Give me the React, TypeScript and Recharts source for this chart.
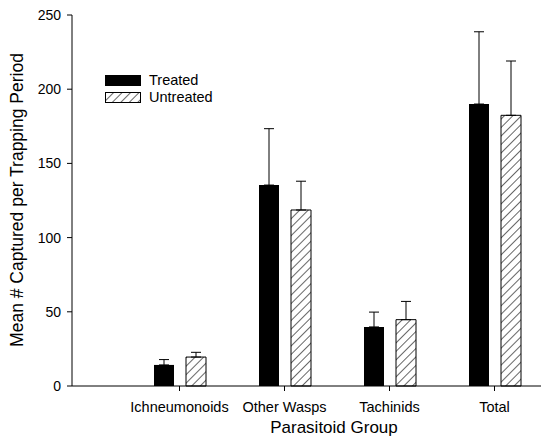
import { BarChart, Bar, XAxis, YAxis, ErrorBar, Legend } from "recharts";

const groups = ["Ichneumonoids", "Other Wasps", "Tachinids", "Total"];
const treated = [14.2, 135.4, 39.8, 190];
const treatedErr = [3.6, 38, 10, 48.7];
const untreated = [19.5, 118.6, 44.7, 182.4];
const untreatedErr = [3.2, 19.4, 12.3, 36.6];
const yTicks = [0, 50, 100, 150, 200, 250];

const data = groups.map((g, i) => ({
  group: g,
  treated: treated[i],
  treatedErr: [0, treatedErr[i]],
  untreated: untreated[i],
  untreatedErr: [0, untreatedErr[i]],
}));

const font = "'Liberation Sans', Arial, sans-serif";

function HatchDef({ id }: { id: string }) {
  return (
    <pattern id={id} patternUnits="userSpaceOnUse" width={6} height={6} patternTransform="rotate(45)">
      <rect width={6} height={6} fill="#fff" />
      <line x1={0} y1={0} x2={0} y2={6} stroke="#000" strokeWidth={1.2} />
    </pattern>
  );
}

const renderLegend = () => (
  <div style={{ fontFamily: font, fontSize: 14.5, color: "#000", lineHeight: "17px" }}>
    <div style={{ display: "flex", alignItems: "center" }}>
      <svg width={37} height={11}>
        <rect x={0.5} y={0.5} width={35} height={10} fill="#000" stroke="#000" />
      </svg>
      <span style={{ marginLeft: 7 }}>Treated</span>
    </div>
    <div style={{ display: "flex", alignItems: "center" }}>
      <svg width={37} height={11}>
        <defs>
          <HatchDef id="hatchLegend" />
        </defs>
        <rect x={0.5} y={0.5} width={35} height={10} fill="url(#hatchLegend)" stroke="#000" />
      </svg>
      <span style={{ marginLeft: 7 }}>Untreated</span>
    </div>
  </div>
);

export default function App() {
  return (
    <div style={{ position: "absolute", left: 0, top: 0, width: 541, height: 441, overflow: "hidden", background: "#fff" }}>
      <BarChart
        width={547}
        height={441}
        data={data}
        margin={{ top: 15, right: 0, bottom: 0, left: 0 }}
        barSize={20}
        barGap={12}
      >
        <defs>
          <HatchDef id="hatch" />
        </defs>
        <XAxis
          dataKey="group"
          height={55}
          padding={{ left: 55, right: 0 }}
          axisLine={{ stroke: "#000" }}
          tickLine={{ stroke: "#000" }}
          tickSize={5}
          tickMargin={11}
          tick={{ fill: "#000", fontSize: 14.5, fontFamily: font }}
          label={() => (
            <text x={334} y={433} textAnchor="middle" fontSize={17} fontFamily={font} fill="#000">
              Parasitoid Group
            </text>
          )}
        />
        <YAxis
          width={72}
          domain={[0, 250]}
          ticks={yTicks}
          axisLine={{ stroke: "#000" }}
          tickLine={{ stroke: "#000" }}
          tickSize={5}
          tickMargin={6}
          tick={{ fill: "#000", fontSize: 14, fontFamily: font }}
          label={() => (
            <text
              x={17}
              y={200}
              textAnchor="middle"
              dominantBaseline="central"
              transform="rotate(-90, 17, 200)"
              fontSize={17.5}
              fontFamily={font}
              fill="#000"
            >
              Mean # Captured per Trapping Period
            </text>
          )}
        />
        <Legend
          layout="vertical"
          align="center"
          verticalAlign="middle"
          content={renderLegend}
          wrapperStyle={{ position: "absolute", left: 105, top: 72, width: "auto" }}
        />
        <Bar dataKey="treated" name="Treated" fill="#000" isAnimationActive={false}>
          <ErrorBar dataKey="treatedErr" direction="y" width={5} stroke="#000" strokeWidth={1} />
        </Bar>
        <Bar dataKey="untreated" name="Untreated" fill="url(#hatch)" stroke="#000" strokeWidth={1} isAnimationActive={false}>
          <ErrorBar dataKey="untreatedErr" direction="y" width={5} stroke="#000" strokeWidth={1} />
        </Bar>
      </BarChart>
    </div>
  );
}
